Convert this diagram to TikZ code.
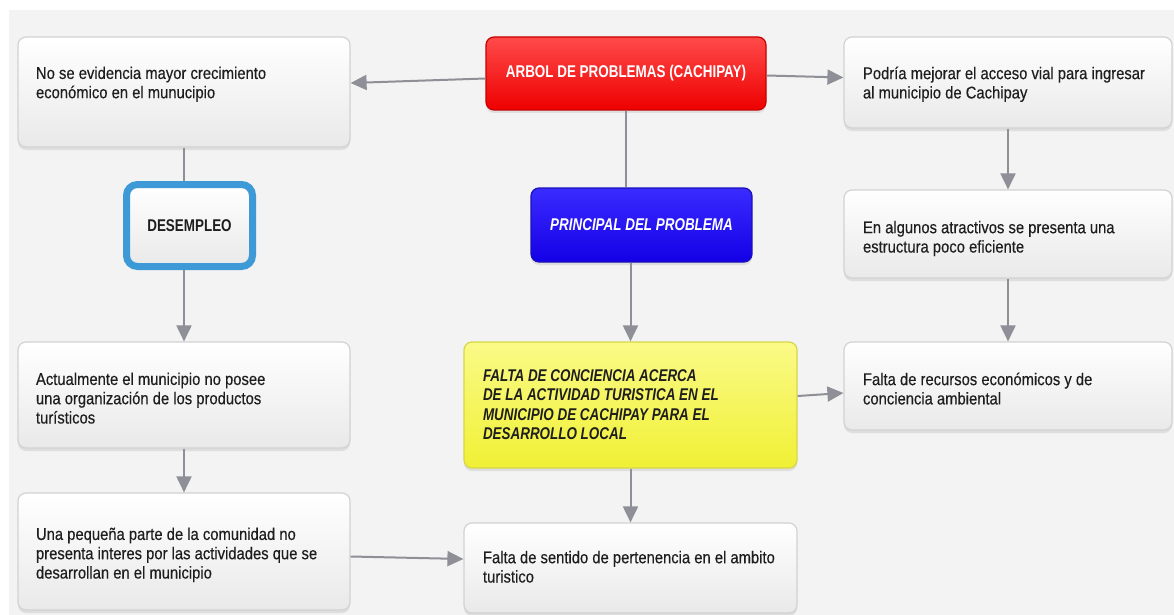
\documentclass[tikz,border=0pt]{standalone}
\usepackage{fontspec}
\newfontfamily\regf{Liberation Sans}[FakeStretch=0.87,FakeBold=0.35]
\newfontfamily\bldf{Liberation Sans}[FakeStretch=0.79]
\usetikzlibrary{arrows.meta,shadows,calc}
\definecolor{bg}{HTML}{F3F3F3}
\definecolor{boxline}{HTML}{D2D2D2}
\definecolor{boxbot}{HTML}{E9E9E9}
\definecolor{txt}{HTML}{1E1E1E}
\definecolor{lin}{HTML}{8F8F97}
\definecolor{redtop}{HTML}{FF4A4A}
\definecolor{redbot}{HTML}{EE0000}
\definecolor{redline}{HTML}{C80000}
\definecolor{bluetop}{HTML}{3A2BFF}
\definecolor{bluebot}{HTML}{1400E6}
\definecolor{blueline}{HTML}{1A10B8}
\definecolor{yeltop}{HTML}{FAFA88}
\definecolor{yelbot}{HTML}{F0F035}
\definecolor{yelline}{HTML}{D6D64A}
\definecolor{desline}{HTML}{3D9AD6}
\newcommand{\toptext}[4]{\parbox[c][#1][t]{#2}{\raggedright\vspace*{#3}#4}}
\tikzset{
  basebox/.style={rectangle, rounded corners=8pt, line width=1.2pt, inner sep=0pt,
    drop shadow={shadow xshift=0pt, shadow yshift=-3pt, opacity=0.18}},
  wbox/.style={basebox, draw=boxline, top color=white, bottom color=boxbot,
    text=txt, font=\regf\fontsize{17}{19.3}\selectfont},
  redbox/.style={basebox, draw=redline, top color=redtop, bottom color=redbot,
    text=white, font=\bldf\bfseries\fontsize{17}{19.3}\selectfont},
  bluebox/.style={basebox, draw=blueline, top color=bluetop, bottom color=bluebot,
    text=white, font=\bldf\bfseries\itshape\fontsize{17}{19.3}\selectfont},
  yelbox/.style={basebox, draw=yelline, top color=yeltop, bottom color=yelbot,
    text=txt, font=\bldf\bfseries\itshape\fontsize{17}{19.5}\selectfont},
  desbox/.style={rectangle, rounded corners=11pt, draw=desline, line width=7pt,
    top color=white, bottom color=boxbot, inner sep=0pt, text=txt,
    font=\bldf\bfseries\fontsize{17}{19.3}\selectfont},
  conn/.style={draw=lin, line width=2pt},
  arr/.style={conn, -{Triangle[length=16pt,width=15pt]}}
}
\begin{document}
\begin{tikzpicture}[x=1pt,y=-1pt]
\useasboundingbox (0,0) rectangle (1174,615);
\fill[white] (0,0) rectangle (1174,615);
\fill[bg] (9,10) rectangle (1174,615);

% left column
\node[wbox, minimum width=332pt, minimum height=110pt] (n1) at (184,92)
  {\toptext{110pt}{296pt}{29.6pt}{No se evidencia mayor crecimiento\\económico en el munucipio}};
\node[desbox, minimum width=126pt, minimum height=82pt] (des) at (189.5,225.5) {DESEMPLEO};
\node[wbox, minimum width=332pt, minimum height=106pt] (act) at (184,395)
  {\toptext{106pt}{296pt}{30.6pt}{Actualmente el municipio no posee\\una organización de los productos\\turísticos}};
\node[wbox, minimum width=332pt, minimum height=117pt] (peq) at (184,551.5)
  {\toptext{117pt}{296pt}{34.6pt}{Una pequeña parte de la comunidad no\\presenta interes por las actividades que se\\desarrollan en el municipio}};

% centre column
\node[redbox, minimum width=280pt, minimum height=73pt] (red) at (626,73.5) {ARBOL DE PROBLEMAS (CACHIPAY)};
\node[bluebox, minimum width=221pt, minimum height=74pt] (blue) at (641.5,225) {PRINCIPAL DEL PROBLEMA};
\node[yelbox, minimum width=333pt, minimum height=126pt] (yel) at (630.5,405)
  {\toptext{126pt}{295pt}{27.5pt}{FALTA DE CONCIENCIA ACERCA\\DE LA ACTIVIDAD TURISTICA EN EL\\MUNICIPIO DE CACHIPAY PARA EL\\DESARROLLO LOCAL}};
\node[wbox, minimum width=333pt, minimum height=90pt] (sen) at (630.5,568)
  {\toptext{90pt}{295pt}{27.9pt}{Falta de sentido de pertenencia en el ambito\\turistico}};

% right column
\node[wbox, minimum width=328pt, minimum height=91pt] (pod) at (1008,82.5)
  {\toptext{91pt}{290pt}{29.6pt}{Podría mejorar el acceso vial para ingresar\\al municipio de Cachipay}};
\node[wbox, minimum width=328pt, minimum height=88pt] (alg) at (1008,234)
  {\toptext{88pt}{290pt}{30.9pt}{En algunos atractivos se presenta una\\estructura poco eficiente}};
\node[wbox, minimum width=328pt, minimum height=88pt] (rec) at (1008,386)
  {\toptext{88pt}{290pt}{30.6pt}{Falta de recursos económicos y de\\conciencia ambiental}};

% connectors
\draw[arr] ([yshift=-5pt]red.west) -- ([yshift=9pt]n1.east);
\draw[arr] ([yshift=-2pt]red.east) -- ([yshift=5pt]pod.west);
\draw[conn] (red.south) -- (red.south |- blue.north);
\draw[arr] (yel.north |- blue.south) -- (yel.north);
\draw[arr] (yel.south) -- (sen.north);
\draw[arr] ([yshift=9pt]yel.east) -- ([yshift=-7pt]rec.west);
\draw[arr] (pod.south) -- (alg.north);
\draw[arr] (alg.south) -- (rec.north);
\draw[conn] (n1.south) -- (n1.south |- des.north);
\draw[arr] (n1.south |- des.south) -- (act.north);
\draw[arr] (act.south) -- (peq.north);
\draw[arr] ([yshift=-5pt]peq.east) -- ([yshift=9pt]sen.west);
\end{tikzpicture}
\end{document}
